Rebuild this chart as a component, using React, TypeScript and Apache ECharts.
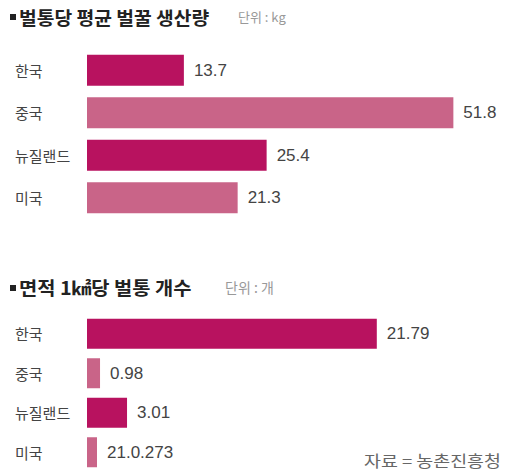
import React, { useEffect, useRef } from "react";
import * as echarts from "echarts";

const categories = ["한국", "중국", "뉴질랜드", "미국"];
const honeyValues = [13.7, 51.8, 25.4, 21.3];
const honeyLabels = ["13.7", "51.8", "25.4", "21.3"];
const hiveValues = [21.79, 0.98, 3.01, 0.273];
const hiveLabels = ["21.79", "0.98", "3.01", "21.0.273"];
const title1 = "벌통당 평균 벌꿀 생산량";
const unit1 = "단위 : kg";
const title2 = "면적 1㎢당 벌통 개수";
const unit2 = "단위 : 개";
const source = "자료 = 농촌진흥청";

const DARK = "#B8125F";
const LIGHT = "#C96488";
const FONT = "'Noto Sans CJK KR', 'Noto Sans', sans-serif";

export default function App() {
  const ref = useRef<HTMLDivElement>(null);
  useEffect(() => {
    if (!ref.current) return;
    const chart = echarts.init(ref.current, undefined, { renderer: "svg" });
    const barColor = (p: any) => (p.dataIndex % 2 === 0 ? DARK : LIGHT);
    const yAxisCommon = {
      type: "category" as const,
      data: categories,
      inverse: true,
      axisLine: { show: false },
      axisTick: { show: false },
      splitLine: { show: false },
      axisLabel: {
        align: "left" as const,
        margin: 72,
        fontSize: 15,
        color: "#444",
        fontFamily: FONT,
      },
    };
    const xAxisCommon = {
      type: "value" as const,
      min: 0,
      show: false,
      splitLine: { show: false },
    };
    const valueLabel = (labels: string[]) => ({
      show: true,
      position: "right" as const,
      distance: 10,
      fontSize: 17,
      color: "#444",
      fontFamily: "'Liberation Sans', Arial, sans-serif",
      formatter: (p: any) => labels[p.dataIndex],
    });
    chart.setOption({
      animation: false,
      backgroundColor: "#fff",
      grid: [
        { left: 87, top: 49, width: 389, height: 170 },
        { left: 87, top: 314, width: 399, height: 166 },
      ],
      xAxis: [
        { ...xAxisCommon, gridIndex: 0, max: 55 },
        { ...xAxisCommon, gridIndex: 1, max: 30 },
      ],
      yAxis: [
        { ...yAxisCommon, gridIndex: 0 },
        { ...yAxisCommon, gridIndex: 1 },
      ],
      series: [
        {
          type: "bar",
          xAxisIndex: 0,
          yAxisIndex: 0,
          data: honeyValues,
          barWidth: 31,
          itemStyle: { color: barColor },
          label: valueLabel(honeyLabels),
        },
        {
          type: "bar",
          xAxisIndex: 1,
          yAxisIndex: 1,
          data: hiveValues,
          barWidth: 30,
          barMinHeight: 10,
          itemStyle: { color: barColor },
          label: valueLabel(hiveLabels),
        },
      ],
      graphic: [
        {
          type: "rect",
          shape: { x: 10, y: 14, width: 6, height: 6 },
          style: { fill: "#222" },
        },
        {
          type: "text",
          x: 19,
          y: 8,
          scaleX: 1.07,
          style: { text: title1, font: `bold 18px ${FONT}`, fill: "#222" },
        },
        {
          type: "text",
          x: 238,
          y: 10,
          style: { text: unit1, font: `13px ${FONT}`, fill: "#999" },
        },
        {
          type: "rect",
          shape: { x: 10, y: 285, width: 6, height: 6 },
          style: { fill: "#222" },
        },
        {
          type: "text",
          x: 19,
          y: 278,
          scaleX: 1.1,
          style: { text: title2, font: `bold 18px ${FONT}`, fill: "#222" },
        },
        {
          type: "text",
          x: 225,
          y: 280,
          style: { text: unit2, font: `14px ${FONT}`, fill: "#999" },
        },
        {
          type: "text",
          x: 364,
          y: 452,
          scaleX: 1.15,
          style: { text: source, font: `16px ${FONT}`, fill: "#666" },
        },
      ],
    });
    return () => chart.dispose();
  }, []);
  return (
    <div
      ref={ref}
      style={{ position: "fixed", left: 0, top: 0, width: 505, height: 472 }}
    />
  );
}
